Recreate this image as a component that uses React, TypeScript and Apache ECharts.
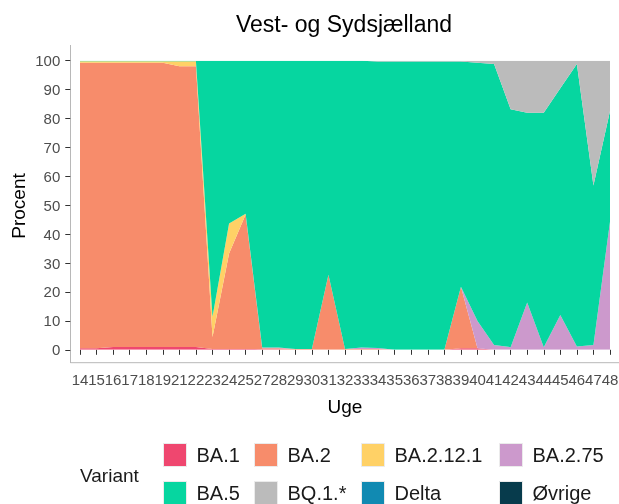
import React, { useEffect, useRef } from "react";
import * as echarts from "echarts";

const weeks = ["14","15","16","17","18","19","21","22","23","24","25","27","28","29","30","31","32","33","34","35","36","37","38","39","40","41","42","43","44","45","46","47","48"];

const ba1 =    [0.5,0.5,1,1,1,1,1,1,0.3,0.3,0.3,0.2,0.2,0,0,0,0,0,0,0,0,0,0,0.5,0.5,0,0,0,0,0,0,0,0];
const ba2 =    [98.8,98.8,98.3,98.3,98.3,98.3,97.1,97.1,4.1,33,46.5,0.3,0.3,0.3,0.3,26,0.3,0.3,0.3,0,0,0,0,21.3,0,0,0,0,0,0,0,0,0];
const ba2121 = [0.5,0.5,0.5,0.5,0.5,0.5,1.7,1.7,7,10.4,0.3,0,0,0,0,0,0,0,0,0,0,0,0,0,0,0,0,0,0,0,0,0,0];
const ba275 =  [0,0,0,0,0,0,0,0,0,0,0,0.3,0.3,0,0,0,0,0.5,0.3,0,0,0,0,0,9.5,1.7,0.9,16.4,0.9,12,1.1,1.7,44.3];
const ba5 =    [0.2,0.2,0.2,0.2,0.2,0.2,0.2,0.2,88.6,56.3,52.9,99.2,99.2,99.7,99.7,74,99.7,99.2,99.1,99.7,99.7,99.7,99.7,77.9,89.3,97.2,82.3,65.6,81.1,78.5,97.8,55.1,38.3];
const bq1 =    [0,0,0,0,0,0,0,0,0,0,0,0,0,0,0,0,0,0,0.3,0.3,0.3,0.3,0.3,0.3,0.7,1.1,16.8,18,18,9.5,1.1,43.2,17.4];
const delta =  [0,0,0,0,0,0,0,0,0,0,0,0,0,0,0,0,0,0,0,0,0,0,0,0,0,0,0,0,0,0,0,0,0];
const ovrige = [0,0,0,0,0,0,0,0,0,0,0,0,0,0,0,0,0,0,0,0,0,0,0,0,0,0,0,0,0,0,0,0,0];

const variantNames = ["BA.1","BA.2","BA.2.12.1","BA.2.75","BA.5","BQ.1.*","Delta","Øvrige"];
const variantData = [ba1, ba2, ba2121, ba275, ba5, bq1, delta, ovrige];
const variantColors = ["#EF476F","#F78C6B","#FFD166","#CC99CC","#06D6A0","#BBBBBB","#118AB2","#073B4C"];

const legendColLeft = [163, 254, 361, 499];
const legendRowTop = [443, 481];

const FONT = "Liberation Sans, Arial, sans-serif";

export default function App() {
  const ref = useRef<HTMLDivElement>(null);
  useEffect(() => {
    if (!ref.current) return;
    const chart = echarts.init(ref.current, undefined, { renderer: "svg" });
    const option: any = {
      animation: false,
      textStyle: { fontFamily: FONT },
      grid: { left: 80, right: 9, top: 60.7, bottom: 154.2, containLabel: false, outerBoundsMode: "none" },
      xAxis: {
        type: "category",
        data: weeks,
        boundaryGap: false,
        offset: 12.9,
        axisLine: { show: false },
        axisTick: { show: true, length: 5, interval: 0, lineStyle: { color: "#333333" } },
        axisLabel: { interval: 0, fontSize: 15, color: "#4d4d4d", margin: 9, fontFamily: FONT },
        splitLine: { show: false },
      },
      yAxis: {
        type: "value",
        min: 0,
        max: 100,
        interval: 10,
        offset: 9.7,
        axisLine: { show: false },
        axisTick: { show: true, length: 5, lineStyle: { color: "#333333" } },
        axisLabel: { fontSize: 15, color: "#4d4d4d", margin: 10, fontFamily: FONT },
        splitLine: { show: false },
      },
      legend: variantNames.map((name, i) => ({
        data: [name],
        orient: "horizontal",
        left: legendColLeft[i % 4],
        top: legendRowTop[Math.floor(i / 4)],
        padding: 0,
        itemWidth: 23,
        itemHeight: 23,
        icon: "rect",
        selectedMode: false,
        itemStyle: { borderColor: "#ebebeb", borderWidth: 1 },
        textStyle: { fontSize: 20, color: "#1a1a1a", fontFamily: FONT, padding: [0, 0, 0, 5] },
      })),
      series: variantNames.map((name, i) => ({
        name,
        type: "line",
        stack: "total",
        data: variantData[i],
        symbol: "none",
        showSymbol: false,
        lineStyle: { width: 0 },
        itemStyle: { color: variantColors[i] },
        areaStyle: { color: variantColors[i], opacity: 1 },
      })),
      graphic: [
        { type: "line", shape: { x1: 70.5, y1: 45, x2: 70.5, y2: 363 }, style: { stroke: "#b8b8b8", lineWidth: 1 } },
        { type: "line", shape: { x1: 70.5, y1: 362.7, x2: 619, y2: 362.7 }, style: { stroke: "#b8b8b8", lineWidth: 1 } },
        { type: "text", x: 344, y: 24, style: { text: "Vest- og Sydsjælland", font: `23px ${FONT}`, fill: "#000", textAlign: "center", textVerticalAlign: "middle" } },
        { type: "text", x: 345, y: 406, style: { text: "Uge", font: `19px ${FONT}`, fill: "#000", textAlign: "center", textVerticalAlign: "middle" } },
        { type: "text", x: 18.5, y: 206, rotation: Math.PI / 2, style: { text: "Procent", font: `19px ${FONT}`, fill: "#000", textAlign: "center", textVerticalAlign: "middle" } },
        { type: "text", x: 80, y: 475, style: { text: "Variant", font: `19px ${FONT}`, fill: "#1a1a1a", textAlign: "left", textVerticalAlign: "middle" } },
      ],
    };
    chart.setOption(option);
    return () => chart.dispose();
  }, []);
  return <div ref={ref} style={{ position: "fixed", left: 0, top: 0, width: 619, height: 504 }} />;
}
